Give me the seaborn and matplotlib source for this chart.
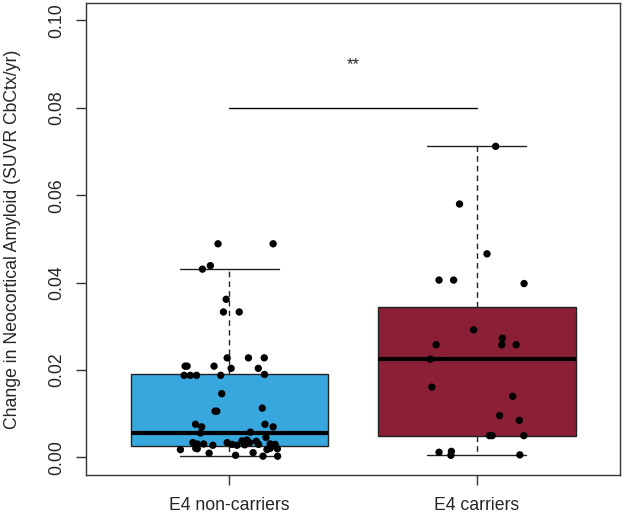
import numpy as np
import pandas as pd
import matplotlib
matplotlib.use("Agg")
import matplotlib.pyplot as plt
import seaborn as sns

groups = ["E4 non-carriers", "E4 carriers"]
box_colors = ["#38a7de", "#8b1f36"]

# box statistics: q1, median, q3, whisker low, whisker high
q1 = [0.0027, 0.0050]
median = [0.0057, 0.0225]
q3 = [0.0190, 0.0345]
whis_lo = [0.0003, 0.0006]
whis_hi = [0.0431, 0.0712]

noncarrier_vals = [0.0489, 0.0489, 0.0431, 0.0439, 0.0362, 0.0333, 0.0333, 0.0228, 0.0228, 0.0228,
                   0.0209, 0.0209, 0.0209, 0.0204, 0.0204, 0.0188, 0.0188, 0.0188, 0.0188, 0.0190,
                   0.0146, 0.0106, 0.0106, 0.0113, 0.0076, 0.0070, 0.0076, 0.0070, 0.0056, 0.0058,
                   0.0046, 0.0034, 0.0031, 0.0031, 0.0028, 0.0034, 0.0030, 0.0028, 0.0038, 0.0040,
                   0.0034, 0.0037, 0.0030, 0.0031, 0.0030, 0.0021, 0.0020, 0.0021, 0.0020, 0.0018,
                   0.0010, 0.0005, 0.0011, 0.0003, 0.0003, 0.0029, 0.0018]
noncarrier_jitter = [-0.046, 0.177, -0.109, -0.077, -0.013, -0.024, 0.040, -0.009, 0.077, 0.141,
                     -0.179, -0.171, -0.062, 0.007, 0.117, -0.183, -0.158, -0.133, -0.035, 0.142,
                     -0.031, -0.051, -0.058, 0.133, -0.137, -0.112, 0.144, 0.177, -0.117, 0.085,
                     0.148, -0.148, -0.130, -0.104, -0.067, -0.009, 0.011, 0.031, 0.051, 0.071,
                     0.082, 0.109, 0.118, 0.165, 0.185, -0.136, -0.130, 0.165, 0.194, -0.198,
                     -0.082, 0.025, 0.096, 0.136, 0.195, 0.062, 0.152]

carrier_vals = [0.0712, 0.0580, 0.0466, 0.0406, 0.0406, 0.0398, 0.0292, 0.0273, 0.0258, 0.0258,
                0.0258, 0.0225, 0.0161, 0.0140, 0.0096, 0.0085, 0.0050, 0.0050, 0.0050, 0.0012,
                0.0014, 0.0005, 0.0006]
carrier_jitter = [0.077, -0.069, 0.042, -0.152, -0.093, 0.192, -0.012, 0.104, 0.102, 0.160,
                  -0.164, -0.187, -0.181, 0.146, 0.093, 0.173, 0.052, 0.063, 0.191, -0.152,
                  -0.102, -0.104, 0.175]

sig_level = 0.08
sig_label = "**"

sns.set_theme(style="white")
plt.rcParams["font.family"] = ["Liberation Sans", "DejaVu Sans"]
fs = 12.7

fig = plt.figure(figsize=(6.25, 5.16), dpi=100)
ax = fig.add_axes([0.1376, 0.0795, 0.8544, 0.9147])

stats = []
for i in range(2):
    stats.append({"q1": q1[i], "med": median[i], "q3": q3[i],
                  "whislo": whis_lo[i], "whishi": whis_hi[i], "fliers": []})
bp = ax.bxp(stats, positions=[1, 2], widths=0.8, capwidths=0.4, patch_artist=True,
            showfliers=False,
            boxprops=dict(edgecolor="#222222", linewidth=1.0),
            medianprops=dict(color="black", linewidth=3),
            whiskerprops=dict(color="#222222", linewidth=1.0, linestyle=(0, (4, 3))),
            capprops=dict(color="#222222", linewidth=1.0))
for patch, c in zip(bp["boxes"], box_colors):
    patch.set_facecolor(c)

pts = pd.DataFrame({
    "x": [1 + j for j in noncarrier_jitter] + [2 + j for j in carrier_jitter],
    "y": noncarrier_vals + carrier_vals,
})
sns.scatterplot(data=pts, x="x", y="y", ax=ax, color="black", s=28, edgecolor="none", zorder=5)

ax.plot([1, 2], [sig_level, sig_level], color="black", linewidth=1)
ax.text(1.5, 0.0900, sig_label, ha="center", va="center", fontsize=12)

ax.set_xlim(0.42, 2.58)
ax.set_ylim(-0.004, 0.104)
ax.set_xticks([1, 2])
ax.set_xticklabels(groups, fontsize=fs)
ax.set_yticks([0, 0.02, 0.04, 0.06, 0.08, 0.10])
ax.set_yticklabels(["0.00", "0.02", "0.04", "0.06", "0.08", "0.10"], rotation=90,
                   va="center", fontsize=fs)
ax.tick_params(axis="both", direction="out", length=7.2, width=1, color="#333333",
               left=True, bottom=True)
ax.tick_params(axis="y", pad=8)
ax.tick_params(axis="x", pad=9)
ax.set_xlabel("")
ax.set_ylabel("Change in Neocortical Amyloid (SUVR CbCtx/yr)", fontsize=fs, labelpad=19)
for sp in ax.spines.values():
    sp.set_color("#333333")
    sp.set_linewidth(1)

fig.savefig("out.png", dpi=100)
